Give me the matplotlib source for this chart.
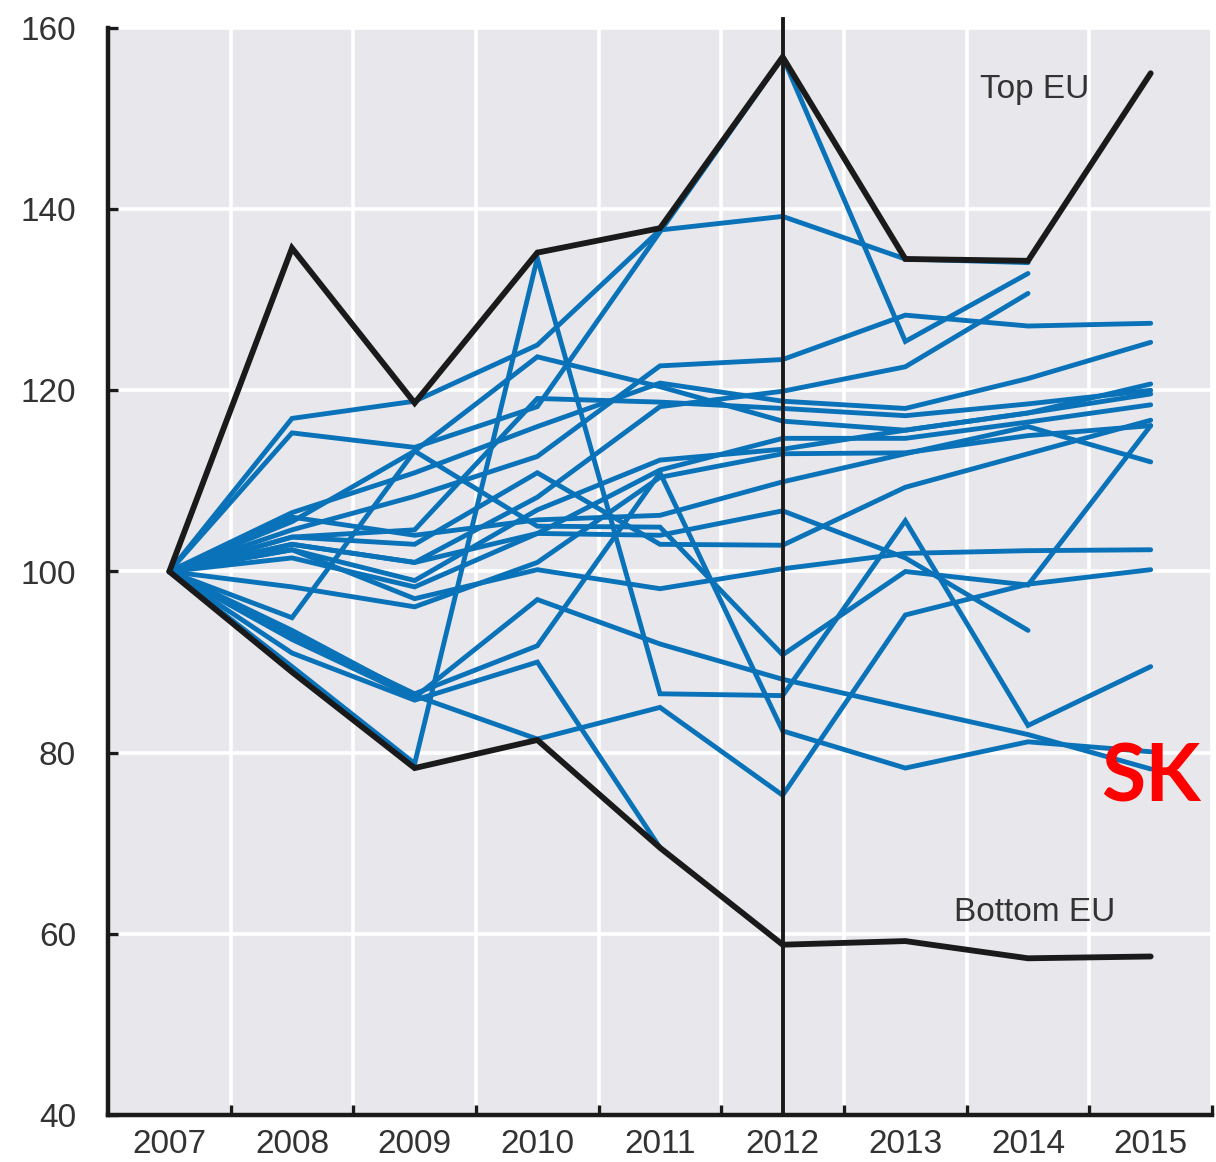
import numpy as np
import matplotlib
matplotlib.use("Agg")
import matplotlib.pyplot as plt

plt.rcParams['font.family'] = ['Liberation Sans', 'DejaVu Sans']

years = ['2007', '2008', '2009', '2010', '2011', '2012', '2013', '2014', '2015']
NA = np.nan

top_eu = [100, 135.7, 118.6, 135.2, 137.9, 156.8, 134.5, 134.3, 155.0]
bottom_eu = [100, 88.9, 78.3, 81.4, 69.5, 58.8, 59.2, 57.3, 57.5]

c01 = [100, 116.9, 118.8, 125.0, 137.7, 139.2, 134.5, 134.1, NA]
c02 = [100, 115.3, 113.7, 118.2, 137.5, 156.8, 125.4, 132.9, NA]
c03 = [100, 103.0, 101.0, 108.2, 118.2, 119.9, 122.6, 130.7, NA]
c04 = [100, 104.6, 108.3, 112.7, 122.7, 123.4, 128.3, 127.1, 127.4]
c05 = [100, 106.5, 110.9, 116.0, 120.8, 118.8, 118.0, 121.3, 125.3]
c06 = [100, 105.5, 113.3, 123.7, 120.4, 116.6, 115.6, 117.5, 120.7]
c07 = [100, 103.8, 104.6, 119.1, 118.7, 118.0, 117.2, 118.5, 120.0]
c08 = [100, 102.4, 99.0, 106.8, 112.3, 113.5, 115.6, 117.5, 119.6]
c09 = [100, 101.5, 98.3, 104.2, 111.2, 114.7, 114.7, 116.5, 118.4]
c10 = [100, 98.3, 96.1, 101.0, 110.4, 113.0, 113.1, 115.0, 116.1]
c11 = [100, 103.8, 103.0, 110.9, 103.0, 102.9, 109.3, 113.0, 116.7]
c12 = [100, 106.0, 104.0, 105.7, 106.2, 109.9, 113.0, 116.0, 112.1]
c13 = [100, 102.4, 97.0, 100.2, 98.1, 100.3, 102.0, 102.3, 102.4]
c14 = [100, 94.9, 113.3, 105.0, 104.9, 90.8, 100.0, 98.5, 116.1]
c15 = [100, 92.5, 86.1, 96.9, 92.0, 88.1, 85.0, 82.0, 78.2]
c16 = [100, 103.0, 101.0, 104.2, 104.0, 106.7, 101.5, 93.5, NA]
c17 = [100, 93.0, 86.5, 91.8, 110.9, 82.4, 78.3, 81.2, 80.1]
c18 = [100, 91.0, 85.8, 90.0, 69.5, NA, NA, NA, NA]
c19 = [100, 89.5, 78.8, 134.6, 86.5, 86.3, 105.6, 83.0, 89.5]
c20 = [100, 93.5, 86.3, 81.5, 85.0, 75.3, 95.2, 98.6, 100.2]

countries = [c01, c02, c03, c04, c05, c06, c07, c08, c09, c10,
             c11, c12, c13, c14, c15, c16, c17, c18, c19, c20]

yticks = [40, 60, 80, 100, 120, 140, 160]

BLUE = '#0a72b8'
BG = '#e8e8ec'
TXT = '#333333'
BLACK = '#1a1a1a'

fig = plt.figure(figsize=(12.16, 11.62), dpi=100)
ax = fig.add_axes([108/1216, 47/1162, 1104/1216, 1087/1162])
ax.set_facecolor(BG)

x = np.arange(len(years))
for s in countries:
    ax.plot(x, np.array(s, dtype=float), color=BLUE, lw=3.5,
            solid_capstyle='round', solid_joinstyle='miter', zorder=3)

ax.plot(x, top_eu, color=BLACK, lw=4.2, solid_capstyle='round',
        solid_joinstyle='miter', zorder=4)
ax.plot(x, bottom_eu, color=BLACK, lw=4.2, solid_capstyle='round',
        solid_joinstyle='miter', zorder=4)

ax.axvline(5, ymin=0, ymax=1.008, color=BLACK, lw=2.8, zorder=5,
           clip_on=False)

ax.set_xlim(-0.5, 8.5)
ax.set_ylim(40, 160)

bounds = np.arange(0.5, 9.0, 1.0)
ax.set_xticks(bounds)
ax.set_xticklabels([])
ax.set_xticks(x, minor=True)
ax.set_xticklabels(years, minor=True)
ax.tick_params(axis='x', which='minor', length=0, pad=10, labelsize=24,
               labelcolor=TXT)
ax.tick_params(axis='x', which='major', direction='in', length=7, width=2.4,
               color=BLACK)
ax.set_yticks(yticks)
ax.set_yticklabels([str(v) for v in yticks])
ax.tick_params(axis='y', direction='in', length=7, width=2.4, pad=23,
               labelsize=24, labelcolor=TXT, color=BLACK)

ax.grid(True, which='major', color='white', lw=2.6, zorder=0)
ax.set_axisbelow(True)

for side in ['top', 'right']:
    ax.spines[side].set_visible(False)
for side in ['left', 'bottom']:
    ax.spines[side].set_linewidth(3.2)
    ax.spines[side].set_color(BLACK)

ax.text(7.05, 153.2, 'Top EU', ha='center', va='center', fontsize=24,
        color=TXT, zorder=6)
ax.text(7.05, 62.4, 'Bottom EU', ha='center', va='center', fontsize=24,
        color=TXT, zorder=6)
ax.text(8.0, 77.2, 'SK', ha='center', va='center', fontsize=58,
        fontweight='bold', color='#ff0000', family=['Lato', 'DejaVu Sans'],
        zorder=7)

fig.savefig('out.png', dpi=100)
